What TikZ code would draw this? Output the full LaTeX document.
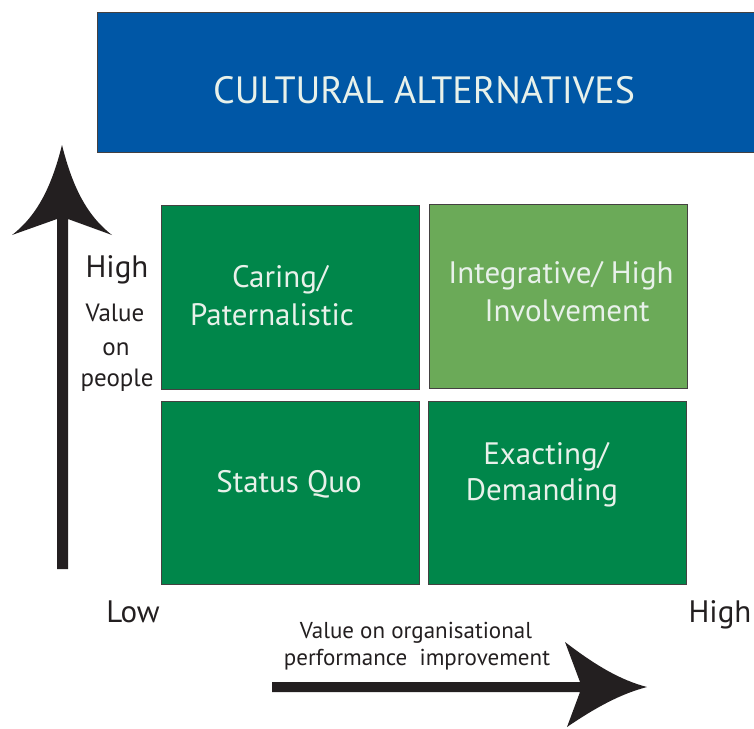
\documentclass[tikz,border=0pt]{standalone}
\usepackage{fontspec}
\setmainfont{PT Sans}
\definecolor{titleblue}{HTML}{0057A6}
\definecolor{dkgreen}{HTML}{00864A}
\definecolor{ltgreen}{HTML}{6BAA58}
\definecolor{inkblack}{HTML}{231F20}
\definecolor{paletext}{HTML}{E8F1EA}
\begin{document}
\begin{tikzpicture}[x=1pt,y=-1pt,
  cell/.style={draw=inkblack!85,line width=0.8pt,anchor=north west,inner sep=0pt},
  celltext/.style={text=paletext,font=\fontsize{31}{38}\selectfont,align=center,anchor=base,inner sep=0pt},
  axistext/.style={text=inkblack,font=\fontsize{31}{34}\selectfont,anchor=base,inner sep=0pt},
  sidetext/.style={text=inkblack,font=\fontsize{25}{32}\selectfont,align=center,anchor=base,inner sep=0pt},
  smalltext/.style={text=inkblack,font=\fontsize{23}{32}\selectfont,align=center,anchor=base,inner sep=0pt}]
\useasboundingbox (0,0) rectangle (754,728);
% title
\node[draw=inkblack!85,line width=0.8pt,fill=titleblue,anchor=north west,minimum width=660pt,minimum height=140pt] (title) at (97,12) {};
\node[text=paletext,font=\fontsize{38}{40}\selectfont,anchor=base,inner sep=0pt] (titletext) at (424,103) {CULTURAL ALTERNATIVES};
% cells
\node[cell,fill=dkgreen,minimum width=258pt,minimum height=184pt] (cp) at (161,205) {};
\node[cell,fill=ltgreen,minimum width=258pt,minimum height=184pt] (ih) at (429,204) {};
\node[cell,fill=dkgreen,minimum width=258pt,minimum height=183pt] (sq) at (161,401) {};
\node[cell,fill=dkgreen,minimum width=258pt,minimum height=183pt] (ed) at (428,401) {};
\node[celltext] (cpt1) at (280,287) {Caring/};
\node[celltext] (cpt2) at (272,325) {Paternalistic};
\node[celltext] (iht1) at (561,283) {Integrative/ High};
\node[celltext] (iht2) at (567,321) {Involvement};
\node[celltext] (sqt) at (289,492) {Status Quo};
\node[celltext] (edt1) at (546,464) {Exacting/};
\node[celltext] (edt2) at (542,500) {Demanding};
% axis labels
\node[axistext] (yhigh) at (117,277) {High};
\node[sidetext] (ylab1) at (115,321) {Value};
\node[sidetext] (ylab2) at (116,355) {on};
\node[sidetext] (ylab3) at (117,386) {people};
\node[axistext] (xlow) at (133,622) {Low};
\node[axistext] (xhigh) at (720,622) {High};
\node[smalltext] (xlab1) at (416,638) {Value on organisational};
\node[smalltext] (xlab2) at (417,665) {performance\ \ improvement};
% vertical arrow
\fill[inkblack] (62,145) .. controls (52,185) and (38,215) .. (12,235) -- (57,219) -- (57,569) -- (68,569) -- (68,219) -- (112,235) .. controls (86,215) and (72,185) .. (62,145) -- cycle;
% horizontal arrow
\fill[inkblack] (272,682) -- (580,682) -- (565,642) .. controls (595,665) and (620,680) .. (647,687) .. controls (620,694) and (595,708) .. (567,727) -- (580,692) -- (272,692) -- cycle;
\end{tikzpicture}
\end{document}
